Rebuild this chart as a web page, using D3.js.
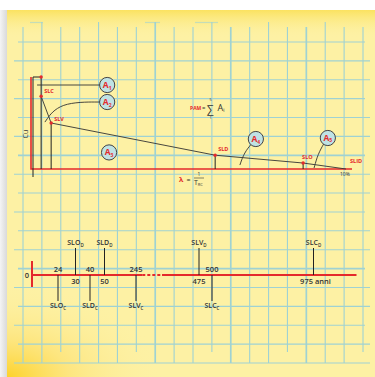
<!DOCTYPE html>
<html>
<head>
<meta charset="utf-8">
<script src="https://cdn.jsdelivr.net/npm/d3@7/dist/d3.min.js"></script>
<style>
  body { margin: 0; background: #fff; }
  svg { display: block; }
  text { font-family: "Open Sans", "Liberation Sans", sans-serif; }
</style>
</head>
<body>
<div id="main"></div>
<script>
// ---- data ----
// top chart: limit states on the lambda (%/year) / cost (% Ct) plane
let stateNames = ["SLC", "SLV", "SLD", "SLO", "SLID"];
let stateLambda = [0.26, 0.58, 5.82, 8.63, 10];
let stateLoss = [79, 50, 15, 6.5, 0];
let areaIds = ["1", "2", "3", "4", "5"];

// bottom chart: return periods (years)
let tickValues = [0, 24, 30, 40, 50, 245, 475, 500, 975];
let tickLabels = ["0", "24", "30", "40", "50", "245", "475", "500", "975 anni"];
let limitStates = ["SLO", "SLD", "SLV", "SLC"];
let periodsD = [30, 50, 475, 975];   // drawn above the axis
let periodsC = [24, 40, 245, 500];   // drawn below the axis

let width = 375, height = 377;
let red = "#e42a2c", ink = "#333";

let svg = d3.select("#main").append("svg")
  .attr("width", width)
  .attr("height", height);

// ---- paper background ----
let defs = svg.append("defs");
let topBand = defs.append("linearGradient").attr("id", "topband")
  .attr("x1", 0).attr("y1", 0).attr("x2", 0).attr("y2", 1);
topBand.append("stop").attr("offset", 0).attr("stop-color", "#fbe260");
topBand.append("stop").attr("offset", 1).attr("stop-color", "#fdf1a4").attr("stop-opacity", 0);
let corner = defs.append("radialGradient").attr("id", "corner")
  .attr("cx", 0).attr("cy", 1).attr("r", 0.6);
corner.append("stop").attr("offset", 0).attr("stop-color", "#fdd22a");
corner.append("stop").attr("offset", 0.4).attr("stop-color", "#fde170").attr("stop-opacity", 0.7);
corner.append("stop").attr("offset", 1).attr("stop-color", "#fdf1a4").attr("stop-opacity", 0);
let side = defs.append("linearGradient").attr("id", "side");
side.append("stop").attr("offset", 0).attr("stop-color", "#f4f4f4");
side.append("stop").attr("offset", 1).attr("stop-color", "#d9d9d9");

svg.append("rect").attr("x", 0).attr("y", 10).attr("width", 7).attr("height", height - 10)
  .attr("fill", "url(#side)");
svg.append("rect").attr("x", 7).attr("y", 10).attr("width", width - 7).attr("height", height - 10)
  .attr("fill", "#fdf1a4");
svg.append("rect").attr("x", 7).attr("y", 10).attr("width", width - 7).attr("height", 28)
  .attr("fill", "url(#topband)");
svg.append("rect").attr("x", 7).attr("y", 220).attr("width", 260).attr("height", 157)
  .attr("fill", "url(#corner)");

// ---- grid ----
let gx = d3.scaleLinear().domain([0, 18]).range([23, 363]);
let gy = d3.scaleLinear().domain([0, 17]).range([42, 363]);
let grid = svg.append("g").attr("stroke", "#9fd2d3").attr("fill", "none");
grid.selectAll(".v").data(d3.range(19)).join("line")
  .attr("x1", d => gx(d)).attr("x2", d => gx(d))
  .attr("y1", d => d % 3 === 1 ? 22 : 27).attr("y2", d => d % 4 === 2 ? 352 : 363)
  .attr("stroke-width", d => [7, 11, 15].includes(d) ? 1.7 : 1.1);
grid.selectAll(".h").data(d3.range(18)).join("line")
  .attr("y1", d => gy(d)).attr("y2", d => gy(d))
  .attr("x1", d => d % 2 ? 14 : 18).attr("x2", d => d % 3 ? 370 : 365)
  .attr("stroke-width", d => [6, 12].includes(d) ? 1.7 : 1.1);
grid.selectAll(".t").data([[30, 43], [145, 160], [195, 218]]).join("line")
  .attr("x1", d => d[0]).attr("x2", d => d[1]).attr("y1", 22.5).attr("y2", 22.5)
  .attr("stroke-width", 1.2).attr("opacity", 0.6);

// ---- top chart ----
let x = d3.scaleLinear().domain([0, 10]).range([33, 346]);
let y = d3.scaleLinear().domain([0, 100]).range([169, 77]);
let c1 = svg.append("g");

// red frame
c1.append("path")
  .attr("d", `M${x(0) - 2},${y(100)}V${y(0)}H${x(10) + 6}`)
  .attr("fill", "none").attr("stroke", red).attr("stroke-width", 1.6);
// black axis + SLC vertical
c1.append("path")
  .attr("d", `M${x(0)},${y(0) + 8}V${y(100)}H${x(stateLambda[0])}V${y(0)}`)
  .attr("fill", "none").attr("stroke", "#222").attr("stroke-width", 1);
// verticals under SLV, SLD, SLO
c1.selectAll(".drop").data(d3.range(1, 4)).join("line")
  .attr("x1", i => x(stateLambda[i])).attr("x2", i => x(stateLambda[i]))
  .attr("y1", i => y(stateLoss[i])).attr("y2", y(0))
  .attr("stroke", "#222").attr("stroke-width", 1);
// loss curve
c1.append("path")
  .datum(d3.range(stateNames.length))
  .attr("d", d3.line().x(i => x(stateLambda[i])).y(i => y(stateLoss[i])))
  .attr("fill", "none").attr("stroke", ink).attr("stroke-width", 0.9);

// callout leaders
let leaders = [
  [[0.13, 91.3], [2.2, 91.3]],
  [[0.38, 51], [0.83, 72.8], [2.2, 72.8]],
  [[6.61, 4.3], [6.75, 18], [7.0, 28]],
  [[8.98, 1.1], [9.1, 16], [9.3, 28]]
];
c1.selectAll(".lead").data(leaders).join("path")
  .attr("d", d3.line().x(d => x(d[0])).y(d => y(d[1])).curve(d3.curveBasis))
  .attr("fill", "none").attr("stroke", ink).attr("stroke-width", 0.9);

// red dots
let dots = [[stateLambda[0], 100]].concat(d3.range(4).map(i => [stateLambda[i], stateLoss[i]]));
c1.selectAll(".dot").data(dots).join("circle")
  .attr("cx", d => x(d[0])).attr("cy", d => y(d[1])).attr("r", 1.7).attr("fill", red);

// state labels
let labelShift = [[3, -3], [3, -2], [3, -4], [-1, -4], [4, -6]];
c1.selectAll(".sl").data(stateNames).join("text")
  .attr("x", (d, i) => x(stateLambda[i]) + labelShift[i][0])
  .attr("y", (d, i) => y(stateLoss[i]) + labelShift[i][1])
  .attr("font-size", 5.5).attr("font-weight", 700).attr("fill", red)
  .text(d => d);

c1.append("text").attr("x", x(10) - 6).attr("y", y(0) + 6.5)
  .attr("font-size", 5).attr("fill", ink).text("10%");

// area bubbles
let bubbles = [[2.37, 91.3], [2.37, 72.8], [2.43, 18], [7.12, 32.6], [9.42, 33.7]];
let bub = c1.selectAll(".bub").data(areaIds).join("g")
  .attr("transform", (d, i) => `translate(${x(bubbles[i][0])},${y(bubbles[i][1])})`);
bub.append("circle").attr("r", 7.6)
  .attr("fill", "#bfe2e4").attr("stroke", "#444").attr("stroke-width", 1);
let bt = bub.append("text").attr("text-anchor", "middle").attr("y", 3)
  .attr("fill", red).attr("font-weight", 700);
bt.append("tspan").attr("font-size", 8.5).text("A");
bt.append("tspan").attr("font-size", 5).attr("dy", 1.5).text(d => d);

// axis label
c1.append("text")
  .attr("transform", `translate(${x(0) - 5},${y(38)}) rotate(-90)`)
  .attr("text-anchor", "middle").attr("font-size", 7).attr("fill", ink)
  .text("Cu");

// PAM formula
let pam = c1.append("g").attr("transform", "translate(190,110)");
pam.append("text").attr("font-size", 5).attr("font-weight", 700).attr("fill", red).text("PAM");
pam.append("text").attr("x", 12).attr("font-size", 6).attr("fill", ink).text("=");
pam.append("text").attr("x", 16.5).attr("y", 2.5).attr("font-size", 11).attr("fill", ink).text("\u2211");
pam.append("text").attr("x", 19.5).attr("y", -9.5).attr("font-size", 4).attr("fill", ink).text("5");
pam.append("text").attr("x", 19.5).attr("y", 9).attr("font-size", 4).attr("fill", ink).text("1");
let pa = pam.append("text").attr("x", 27.5).attr("y", 0.5).attr("font-size", 9).attr("fill", ink);
pa.append("tspan").text("A");
pa.append("tspan").attr("font-size", 5).attr("dy", 1.5).text("i");

// lambda formula
let lam = c1.append("g").attr("transform", "translate(179,182)");
lam.append("text").attr("font-size", 7).attr("font-weight", 700).attr("fill", red).text("\u03bb");
lam.append("text").attr("x", 7.5).attr("font-size", 7).attr("fill", ink).text("=");
lam.append("text").attr("x", 18.5).attr("y", -6).attr("font-size", 5).attr("fill", ink).text("1");
lam.append("line").attr("x1", 15).attr("x2", 25).attr("y1", -4).attr("y2", -4)
  .attr("stroke", ink).attr("stroke-width", 0.6);
let tr = lam.append("text").attr("x", 15).attr("y", 3).attr("font-size", 7).attr("fill", ink);
tr.append("tspan").text("T");
tr.append("tspan").attr("font-size", 4).attr("dy", 1).text("RC");

// ---- bottom chart: return-period timeline ----
let t = d3.scaleLinear()
  .domain(tickValues)
  .range([32, 58, 75.5, 90, 104.5, 136, 199, 212, 313.5]);
let ly = 275;
let c2 = svg.append("g");

c2.append("line").attr("x1", t(0)).attr("x2", t(268)).attr("y1", ly).attr("y2", ly)
  .attr("stroke", red).attr("stroke-width", 2);
c2.append("line").attr("x1", t(268)).attr("x2", t(340)).attr("y1", ly).attr("y2", ly)
  .attr("stroke", red).attr("stroke-width", 2).attr("stroke-dasharray", "3,2");
c2.append("line").attr("x1", t(340)).attr("x2", t(975) + 43).attr("y1", ly).attr("y2", ly)
  .attr("stroke", red).attr("stroke-width", 2);
c2.append("line").attr("x1", t(0)).attr("x2", t(0)).attr("y1", ly - 14).attr("y2", ly + 12)
  .attr("stroke", red).attr("stroke-width", 2);

// leaders + state labels
function stateMarks(periods, above, sub) {
  let g = c2.append("g");
  g.selectAll("line").data(periods).join("line")
    .attr("x1", d => t(d)).attr("x2", d => t(d))
    .attr("y1", ly).attr("y2", above ? ly - 27 : ly + 26)
    .attr("stroke", "#222").attr("stroke-width", 1);
  let tx = g.selectAll("text").data(periods).join("text")
    .attr("x", d => t(d)).attr("y", above ? ly - 30 : ly + 33)
    .attr("text-anchor", "middle").attr("font-size", 7).attr("font-weight", 600)
    .attr("fill", ink);
  tx.append("tspan").text((d, i) => limitStates[i]);
  tx.append("tspan").attr("font-size", 4.5).attr("dy", 1.5).text(sub);
}
stateMarks(periodsD, true, "D");
stateMarks(periodsC, false, "C");

// tick numbers: C periods above the line, D periods below
c2.selectAll(".num").data(tickValues.slice(1)).join("text")
  .attr("x", d => t(d) + (d === 975 ? 2 : 0))
  .attr("y", d => periodsC.includes(d) ? ly - 3 : ly + 8.5)
  .attr("text-anchor", "middle").attr("font-size", 7.5).attr("font-weight", 600)
  .attr("fill", ink)
  .text((d, i) => tickLabels[i + 1]);
c2.append("text").attr("x", t(0) - 5).attr("y", ly + 2.5)
  .attr("text-anchor", "middle").attr("font-size", 7.5).attr("font-weight", 600)
  .attr("fill", ink).text(tickLabels[0]);
</script>
</body>
</html>
